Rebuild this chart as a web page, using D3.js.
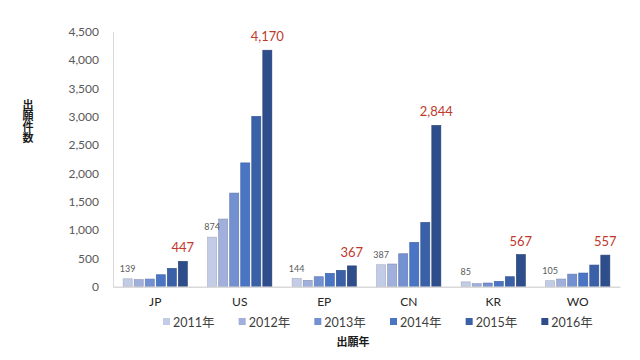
<!DOCTYPE html>
<html><head><meta charset="utf-8">
<script src="https://cdn.jsdelivr.net/npm/d3@7/dist/d3.min.js"></script>
<style>body{margin:0;background:#fff}svg{display:block}</style>
</head><body><svg id="c" width="640" height="360"></svg>
<script>
const categories = ["JP","US","EP","CN","KR","WO"];
const years = ["2011年","2012年","2013年","2014年","2015年","2016年"];
const v2011 = [139, 874, 144, 387, 85, 105];
const v2012 = [124, 1193, 113, 400, 53, 135];
const v2013 = [135, 1651, 176, 581, 65, 222];
const v2014 = [211, 2183, 236, 782, 95, 241];
const v2015 = [324, 3004, 289, 1134, 176, 382];
const v2016 = [447, 4170, 367, 2844, 567, 557];
const series = [v2011, v2012, v2013, v2014, v2015, v2016];
const yTicks = [0,500,1000,1500,2000,2500,3000,3500,4000,4500];
const colors = ["#c3cce6","#a0afdb","#7390d0","#4a74c4","#3a60a8","#2e4d8b"];

const svg = d3.select("#c");
const fmt = d3.format(",");
const numFont = "Lato, 'Noto Sans CJK JP', sans-serif";
const jpFont = "'Noto Sans CJK JP', sans-serif";

const x0 = d3.scaleBand().domain(categories).range([113, 620]).paddingInner(0.24).paddingOuter(0.12);
const x1 = d3.scaleBand().domain(years).range([0, x0.bandwidth()]).paddingInner(0.18);
const y = d3.scaleLinear().domain([0, 4500]).range([286.7, 31.5]);

// y axis
const ya = svg.append("g").attr("transform","translate(113,0)")
  .call(d3.axisLeft(y).tickValues(yTicks).tickFormat(fmt).tickSize(0).tickPadding(14));
ya.select(".domain").attr("stroke","#d9d9d9");
ya.selectAll("text").attr("fill","#595959").style("font-family",numFont).style("font-size","12px");

// bars
categories.forEach((c, ci) => {
  const g = svg.append("g").attr("transform",`translate(${x0(c)},0)`);
  years.forEach((yr, si) => {
    const v = series[si][ci];
    g.append("rect")
      .attr("x", x1(yr)).attr("width", x1.bandwidth())
      .attr("y", y(v)).attr("height", y(0) - y(v))
      .attr("fill", colors[si])
      .attr("stroke", d3.color(colors[si]).darker(0.5)).attr("stroke-width", 0.6);
  });
  g.append("text").attr("x", x1(years[0]) + x1.bandwidth()/2).attr("y", y(v2011[ci]) - 7)
    .attr("text-anchor","middle").attr("fill","#595959")
    .style("font-family",numFont).style("font-size","9px").text(fmt(v2011[ci]));
  g.append("text").attr("x", x1(years[5]) + x1.bandwidth()/2).attr("y", y(v2016[ci]) - 9)
    .attr("text-anchor","middle").attr("fill","#c0392b")
    .style("font-family",numFont).style("font-size","13px").text(fmt(v2016[ci]));
});

// x axis
const xa = svg.append("g").attr("transform",`translate(0,${y(0)})`)
  .call(d3.axisBottom(x0).tickSize(0).tickPadding(11));
xa.select(".domain").attr("stroke","#d9d9d9").attr("stroke-width",1.5);
xa.selectAll("text").attr("fill","#262626").style("font-family",numFont).style("font-size","12px");

// y title (vertical)
svg.append("text").attr("x",28).attr("y",99)
  .attr("writing-mode","vertical-rl").style("writing-mode","vertical-rl")
  .attr("text-anchor","start").attr("fill","#1a1a1a")
  .style("font-family",jpFont).style("font-size","11px").style("font-weight","bold")
  .text("出願件数");

// legend
const lx = d3.scaleBand().domain(years).range([163, 617]);
years.forEach((yr, i) => {
  const lg = svg.append("g").attr("transform",`translate(${lx(yr)},322)`);
  lg.append("rect").attr("x",0).attr("y",-4).attr("width",7).attr("height",7).attr("fill",colors[i]);
  lg.append("text").attr("x",10).attr("y",4.5).attr("fill","#404040")
    .style("font-family",numFont).style("font-size","12.5px").text(yr);
});

svg.append("text").attr("x",353).attr("y",345.5).attr("text-anchor","middle").attr("fill","#1a1a1a")
  .style("font-family",jpFont).style("font-size","11px").style("font-weight","bold").text("出願年");
</script></body></html>
